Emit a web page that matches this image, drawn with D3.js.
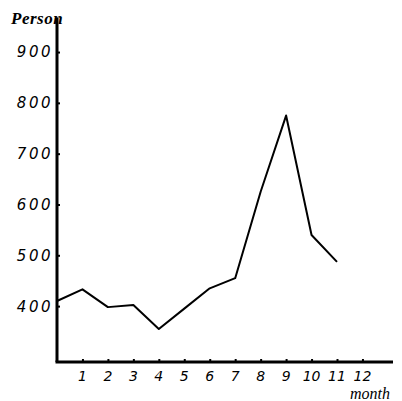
<!DOCTYPE html>
<html><head><meta charset="utf-8">
<script src="https://cdn.jsdelivr.net/npm/d3@7"></script>
<style>body{margin:0;background:#fff}svg{display:block}</style>
</head><body>
<script>
const months = [0,1,2,3,4,5,6,7,8,9,10,11];
const persons = [410,433,398,402,355,395,435,455,625,775,540,487];
const yTicks = [400,500,600,700,800,900];
const xTicks = [1,2,3,4,5,6,7,8,9,10,11,12];

const W = 402, H = 401;
const svg = d3.select("body").append("svg").attr("width", W).attr("height", H);
const x = d3.scaleLinear().domain([0, 13.2]).range([57, 393]);
const y = d3.scaleLinear().domain([290, 967]).range([362, 18]);

// axes
const ax = svg.append("g").attr("transform", `translate(${x(0)},0)`)
  .call(d3.axisRight(y).tickValues(yTicks).tickSize(3).tickFormat(""));
ax.select(".domain").attr("stroke-width", 3).attr("d", `M0,${y(967)}V${y(290)}`);
ax.selectAll(".tick line").attr("stroke-width", 2);

const bx = svg.append("g").attr("transform", `translate(0,${y(290)})`)
  .call(d3.axisTop(x).tickValues(xTicks).tickSize(3).tickFormat(""));
bx.select(".domain").attr("stroke-width", 3).attr("d", `M${x(0)-1.5},0H${x(13.2)}`);
bx.selectAll(".tick line").attr("stroke-width", 2);

const font = "'DejaVu Sans', sans-serif";
svg.append("g").selectAll("text").data(yTicks).join("text")
  .attr("x", 53).attr("y", d => y(d)).attr("dy", "0.36em")
  .attr("text-anchor", "end").attr("font-family", font).attr("font-style", "italic")
  .attr("font-size", 15).attr("letter-spacing", 2.5).text(d => d);

svg.append("g").selectAll("text").data(xTicks).join("text")
  .attr("x", d => x(d)).attr("y", 381)
  .attr("text-anchor", "middle").attr("font-family", font).attr("font-style", "italic")
  .attr("font-size", 14).text(d => d);

svg.append("text").attr("x", 11).attr("y", 24).attr("font-family", "'Liberation Serif', serif")
  .attr("font-style", "italic").attr("font-weight", "bold").attr("font-size", 17)
  .attr("letter-spacing", 0.5).text("Person");
svg.append("text").attr("x", 350).attr("y", 399).attr("font-family", "'Liberation Serif', serif")
  .attr("font-style", "italic").attr("font-size", 16).text("month");

// line
svg.append("path").datum(months.map((m, i) => [m, persons[i]]))
  .attr("fill", "none").attr("stroke", "#000").attr("stroke-width", 2)
  .attr("stroke-linejoin", "round")
  .attr("d", d3.line().x(d => x(d[0])).y(d => y(d[1])));
</script>
</body></html>
